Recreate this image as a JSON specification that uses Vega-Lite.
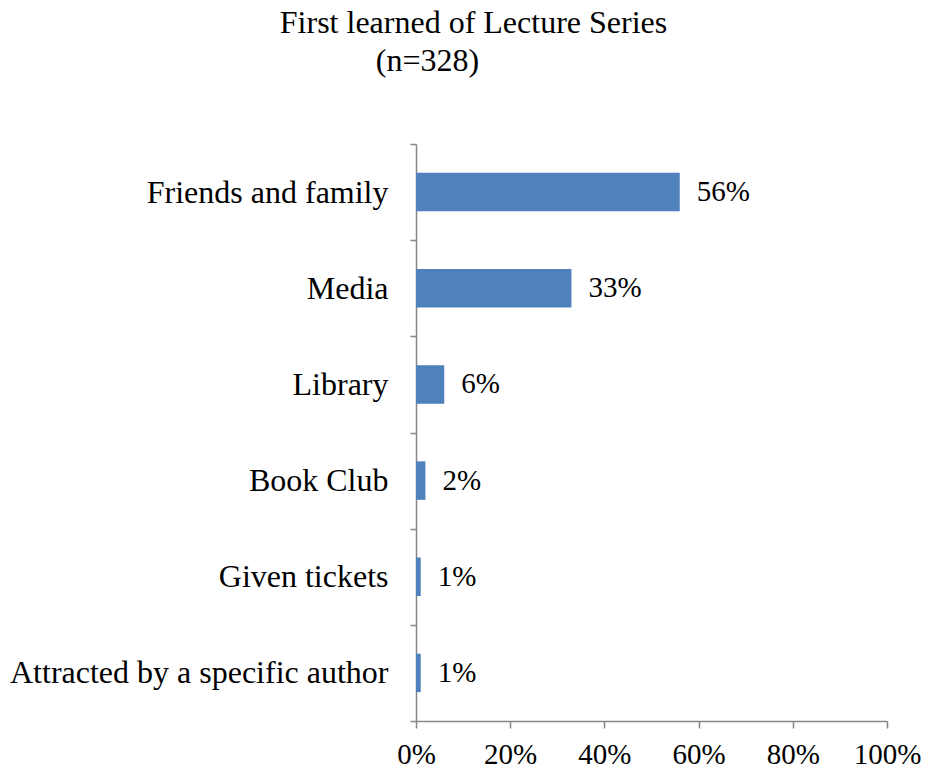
{
  "$schema": "https://vega.github.io/schema/vega-lite/v6.json",
  "width": 471,
  "height": 577,
  "autosize": {"type": "none"},
  "padding": {"left": 416, "top": 144, "right": 38, "bottom": 54},
  "background": "white",
  "config": {
    "view": {"stroke": null},
    "font": "Liberation Serif"
  },
  "title": {
    "text": ["First learned of Lecture Series", "(n=328)\u2800\u2800\u2800\u2800"],
    "font": "Liberation Serif",
    "fontSize": 32,
    "fontWeight": "normal",
    "color": "black",
    "lineHeight": 38,
    "anchor": "middle",
    "dx": -178,
    "offset": 50
  },
  "data": {
    "values": [
      {"source": "Friends and family", "share": 0.56},
      {"source": "Media", "share": 0.33},
      {"source": "Library", "share": 0.06},
      {"source": "Book Club", "share": 0.02},
      {"source": "Given tickets", "share": 0.01},
      {"source": "Attracted by a specific author", "share": 0.01}
    ]
  },
  "encoding": {
    "y": {
      "field": "source",
      "type": "nominal",
      "sort": null,
      "title": null,
      "scale": {"paddingInner": 0, "paddingOuter": 0},
      "axis": {
        "tickBand": "extent",
        "domainColor": "#868686",
        "domainWidth": 1.5,
        "tickColor": "#868686",
        "tickWidth": 1.5,
        "tickSize": 6,
        "labelPadding": 22,
        "labelFont": "Liberation Serif",
        "labelFontSize": 32,
        "labelColor": "black",
        "labelLimit": 500
      }
    },
    "x": {
      "field": "share",
      "type": "quantitative",
      "title": null,
      "scale": {"domain": [0, 1]},
      "axis": {
        "values": [0, 0.2, 0.4, 0.6, 0.8, 1],
        "format": ".0%",
        "grid": false,
        "domainColor": "#868686",
        "domainWidth": 1.5,
        "tickColor": "#868686",
        "tickWidth": 1.5,
        "tickSize": 7,
        "labelPadding": 12,
        "labelFont": "Liberation Serif",
        "labelFontSize": 29,
        "labelColor": "black",
        "labelFlush": false
      }
    }
  },
  "layer": [
    {"mark": {"type": "bar", "color": "#4F81BD", "height": {"band": 0.4}}},
    {
      "mark": {"type": "text", "align": "left", "dx": 17, "font": "Liberation Serif", "fontSize": 29, "color": "black", "baseline": "middle"},
      "encoding": {"text": {"field": "share", "type": "quantitative", "format": ".0%"}}
    }
  ]
}
